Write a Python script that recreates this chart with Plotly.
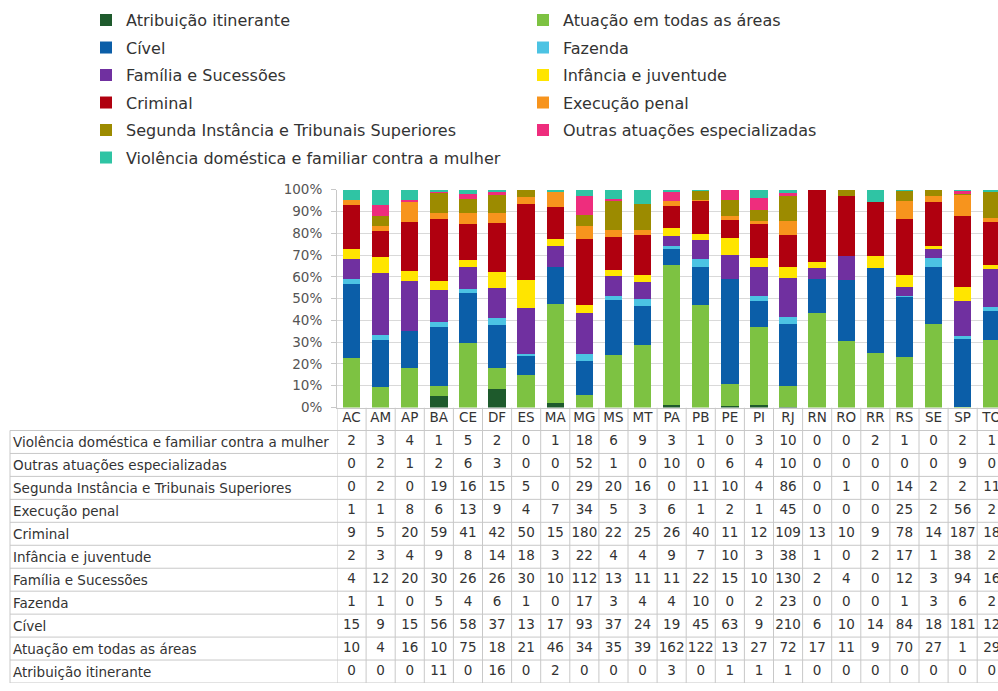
import plotly.graph_objects as go

states = ["AC", "AM", "AP", "BA", "CE", "DF", "ES", "MA", "MG", "MS", "MT", "PA",
          "PB", "PE", "PI", "RJ", "RN", "RO", "RR", "RS", "SE", "SP", "TO"]

# stacking order (bottom -> top)
series_names = [
    "Atribuição itinerante",
    "Atuação em todas as áreas",
    "Cível",
    "Fazenda",
    "Família e Sucessões",
    "Infância e juventude",
    "Criminal",
    "Execução penal",
    "Segunda Instância e Tribunais Superiores",
    "Outras atuações especializadas",
    "Violência doméstica e familiar contra a mulher",
]

atribuicao = [0, 0, 0, 11, 0, 16, 0, 2, 0, 0, 0, 3, 0, 1, 1, 1, 0, 0, 0, 0, 0, 0, 0]
atuacao = [10, 4, 16, 10, 75, 18, 21, 46, 34, 35, 39, 162, 122, 13, 27, 72, 17, 11, 9, 70, 27, 1, 29]
civel = [15, 9, 15, 56, 58, 37, 13, 17, 93, 37, 24, 19, 45, 63, 9, 210, 6, 10, 14, 84, 18, 181, 12]
fazenda = [1, 1, 0, 5, 4, 6, 1, 0, 17, 3, 4, 4, 10, 0, 2, 23, 0, 0, 0, 1, 3, 6, 2]
familia = [4, 12, 20, 30, 26, 26, 30, 10, 112, 13, 11, 11, 22, 15, 10, 130, 2, 4, 0, 12, 3, 94, 16]
infancia = [2, 3, 4, 9, 8, 14, 18, 3, 22, 4, 4, 9, 7, 10, 3, 38, 1, 0, 2, 17, 1, 38, 2]
criminal = [9, 5, 20, 59, 41, 42, 50, 15, 180, 22, 25, 26, 40, 11, 12, 109, 13, 10, 9, 78, 14, 187, 18]
execucao = [1, 1, 8, 6, 13, 9, 4, 7, 34, 5, 3, 6, 1, 2, 1, 45, 0, 0, 0, 25, 2, 56, 2]
segunda = [0, 2, 0, 19, 16, 15, 5, 0, 29, 20, 16, 0, 11, 10, 4, 86, 0, 1, 0, 14, 2, 2, 11]
outras = [0, 2, 1, 2, 6, 3, 0, 0, 52, 1, 0, 10, 0, 6, 4, 10, 0, 0, 0, 0, 0, 9, 0]
violencia = [2, 3, 4, 1, 5, 2, 0, 1, 18, 6, 9, 3, 1, 0, 3, 10, 0, 0, 2, 1, 0, 2, 1]

series_values = [atribuicao, atuacao, civel, fazenda, familia, infancia,
                 criminal, execucao, segunda, outras, violencia]

colors = ["#1E5A2C", "#7DC242", "#0B5EA8", "#4CC3E3", "#7030A0", "#FFE500",
          "#B0000F", "#F7941D", "#9C8B00", "#EE2D7D", "#2FC4A4"]

W, H = 998, 691
FONT = "DejaVu Sans"
GRID = "#C8C8C8"
TXT = "#333333"
TABLE_FS = 13.5
LEGEND_FS = 16

# pixel geometry of the reference
plot_left = 337
plot_top, plot_bottom = 186, 409
col_w = 29.1
x_max = -0.5 + (W - plot_left) / col_w      # TO column is cut by the image edge

fig = go.Figure()

# stacked 100% bars
for i, (name, vals, col) in enumerate(zip(series_names, series_values, colors)):
    fig.add_trace(go.Bar(
        x=states, y=vals, name=name, marker_color=col, marker_line_width=0,
        legend="legend" if i % 2 == 0 else "legend2",
        legendgroup=name,
    ))

# data table below the chart, drawn on a second y axis sharing x
n_rows = len(series_names)
table_y = {name: idx for idx, name in enumerate(series_names)}   # bottom row = first series
tx, ty, tt = [], [], []
for name, vals in zip(series_names, series_values):
    for s, v in zip(states, vals):
        tx.append(s)
        ty.append(table_y[name])
        tt.append(str(v))
fig.add_trace(go.Scatter(
    x=tx, y=ty, text=tt, mode="text", yaxis="y2", showlegend=False,
    textfont=dict(family=FONT, size=TABLE_FS, color=TXT), hoverinfo="skip",
))
# header row (state codes)
fig.add_trace(go.Scatter(
    x=states, y=[n_rows] * len(states), text=states, mode="text", yaxis="y2",
    showlegend=False, textfont=dict(family=FONT, size=TABLE_FS, color=TXT),
    hoverinfo="skip",
))

for name in series_names:
    fig.add_annotation(
        text=name, xref="paper", yref="y2", x=11 / W, y=table_y[name],
        xanchor="left", yanchor="middle", showarrow=False,
        font=dict(family=FONT, size=TABLE_FS, color=TXT),
    )

shapes = []
# horizontal table lines
for k in range(n_rows + 1):
    shapes.append(dict(type="line", xref="paper", yref="y2",
                       x0=10 / W, x1=1, y0=k - 0.5, y1=k - 0.5,
                       line=dict(color=GRID, width=1)))
# left border of label column and column separators
shapes.append(dict(type="line", xref="paper", yref="y2", x0=10 / W, x1=10 / W,
                   y0=-0.5, y1=n_rows - 0.5, line=dict(color=GRID, width=1)))
for c in range(len(states) + 1):
    shapes.append(dict(type="line", xref="x", yref="y2", x0=c - 0.5, x1=c - 0.5,
                       y0=-0.5, y1=n_rows + 0.5, line=dict(color=GRID, width=1)))

legend_style = dict(
    xanchor="left", yanchor="top", traceorder="grouped", tracegroupgap=3.7,
    font=dict(family=FONT, size=LEGEND_FS, color=TXT), bgcolor="rgba(0,0,0,0)",
)

fig.update_layout(
    width=W, height=H, autosize=False,
    margin=dict(l=0, r=0, t=0, b=0),
    paper_bgcolor="white", plot_bgcolor="white",
    barmode="stack", barnorm="percent", bargap=0.4,
    font=dict(family=FONT, size=12, color=TXT),
    shapes=shapes,
    xaxis=dict(domain=[plot_left / W, 1], range=[-0.5, x_max],
               showticklabels=False, ticks="", showgrid=False,
               showline=True, linecolor=GRID, anchor="y"),
    yaxis=dict(domain=[(H - plot_bottom) / H, (H - plot_top) / H],
               range=[0, 100], dtick=10, ticksuffix="%",
               showgrid=True, gridcolor="#D9D9D9", gridwidth=1,
               showline=True, linecolor=GRID, ticks="outside", ticklen=5,
               tickcolor=GRID, zeroline=False, ticklabelstandoff=6,
               tickfont=dict(family=FONT, size=13.5, color="#555555")),
    yaxis2=dict(domain=[0, (H - plot_bottom) / H], range=[-0.5, n_rows + 0.5],
                visible=False, anchor="x"),
    legend=dict(x=86 / W, y=1 + 5 / H, **legend_style),
    legend2=dict(x=523 / W, y=1 + 5 / H, **legend_style),
)

fig.write_html(
    "out.html",
    config={"displayModeBar": False},
    post_script="document.body.style.margin='0px';"
                "document.documentElement.style.overflow='hidden';",
)
